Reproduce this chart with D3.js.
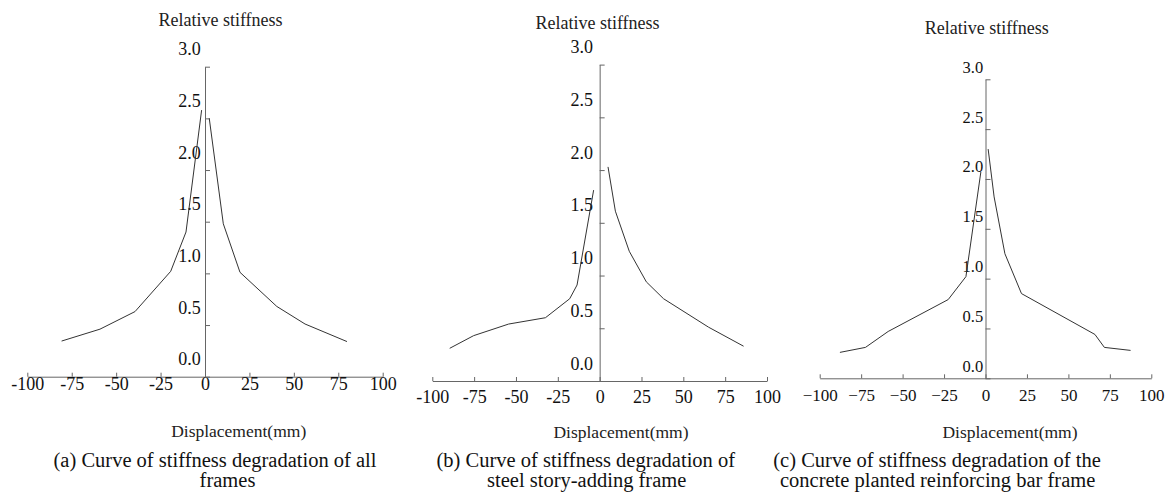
<!DOCTYPE html>
<meta charset="utf-8">
<body style="margin:0;background:#fff">
</body>
<script src="https://d3js.org/d3.v7.min.js"></script>
<script>

// [displacement (mm), relative stiffness]
var aNeg = [[-80.7,0.345],[-59.1,0.46],[-39.4,0.63],[-19.3,1.02],[-10.7,1.40],[-1.9,2.58]];
var aPos = [[2.4,2.50],[10.3,1.48],[19.7,1.01],[40.4,0.68],[56.3,0.51],[79.9,0.34]];
var bNeg = [[-89.6,0.31],[-75.3,0.43],[-54.4,0.54],[-32.4,0.60],[-17.9,0.78],[-13.5,0.91],[-3.6,1.81]];
var bPos = [[5.0,2.03],[9.4,1.61],[17.7,1.23],[27.9,0.94],[38.2,0.78],[65.1,0.51],[86.0,0.33]];
var cNeg = [[-87.8,0.26],[-72.4,0.31],[-58.7,0.47],[-22.5,0.79],[-11.8,1.02],[-2.8,2.07]];
var cPos = [[1.6,2.30],[5.2,1.82],[11.7,1.25],[21.7,0.85],[66.0,0.44],[71.7,0.31],[87.5,0.28]];

var xTicks = [-100, -75, -50, -25, 0, 25, 50, 75, 100];
var yTicks = [0, 0.5, 1.0, 1.5, 2.0, 2.5, 3.0];
var yTitle = "Relative stiffness";
var xTitle = "Displacement(mm)";
var captionA = ["(a) Curve of stiffness degradation of all", "frames"];
var captionB = ["(b) Curve of stiffness degradation of", "steel story-adding frame"];
var captionC = ["(c) Curve of stiffness degradation of the", "concrete planted reinforcing bar frame"];

var font = "'Liberation Serif', 'Times New Roman', serif";

// where each panel sits on the page
var panels = [
  {neg: aNeg, pos: aPos, cap: captionA, minus: "-",
   xl: 27.3, xr: 382.7, yb: 376.7, yt: 66.7,
   ySize: 18, xSize: 18, yDx: -4.3, yDy: -12, xDy: 12.8,
   yTitle: [220.5, 26], xTitle: [238.7, 437],
   capAnchor: "middle", cap1: [215, 467], cap2: [227.5, 487]},
  {neg: bNeg, pos: bPos, cap: captionB, minus: "-",
   xl: 432.3, xr: 767, yb: 381, yt: 64.6,
   ySize: 18, xSize: 18, yDx: -6.6, yDy: -12, xDy: 21.7,
   yTitle: [597.5, 29.3], xTitle: [621, 438.3],
   capAnchor: "middle", cap1: [585.8, 466.5], cap2: [586.7, 487]},
  {neg: cNeg, pos: cPos, cap: captionC, minus: "\u2212",
   xl: 819.7, xr: 1151.3, yb: 378.3, yt: 79.3,
   ySize: 16.5, xSize: 17, yDx: -2.3, yDy: -7, xDy: 22.4,
   yTitle: [986.8, 34.3], xTitle: [1010, 438.3],
   capAnchor: "start", cap1: [773.3, 466.5], cap2: [780, 487]}
];

var svg = d3.select("body").append("svg")
  .attr("width", 1169)
  .attr("height", 494)
  .style("display", "block");

svg.append("rect").attr("width", 1169).attr("height", 494).attr("fill", "#fff");

panels.forEach(function(p) {
  var x = d3.scaleLinear().domain([-100, 100]).range([p.xl, p.xr]);
  var y = d3.scaleLinear().domain([0, 3]).range([p.yb, p.yt]);

  // x axis, ticks pointing up
  var gx = svg.append("g")
    .attr("transform", "translate(0," + p.yb + ")")
    .call(d3.axisBottom(x).tickValues(xTicks).tickSizeInner(-4).tickSizeOuter(0)
      .tickFormat(function(d) { return d < 0 ? p.minus + Math.abs(d) : d; }));
  gx.selectAll("text")
    .attr("y", 0).attr("dy", p.xDy)
    .style("font-family", font).style("font-size", p.xSize + "px").attr("fill", "#111");

  // y axis, ticks pointing right, labels sit above their ticks
  var gy = svg.append("g")
    .attr("transform", "translate(" + x(0) + ",0)")
    .call(d3.axisLeft(y).tickValues(yTicks).tickSizeInner(-5).tickSizeOuter(0)
      .tickFormat(d3.format(".1f")));
  gy.selectAll("text")
    .attr("x", p.yDx).attr("dy", p.yDy)
    .style("font-family", font).style("font-size", p.ySize + "px").attr("fill", "#111");

  svg.selectAll(".domain, .tick line").attr("stroke", "#666");

  var line = d3.line()
    .x(function(d) { return x(d[0]); })
    .y(function(d) { return y(d[1]); });

  [p.neg, p.pos].forEach(function(branch) {
    svg.append("path")
      .datum(branch)
      .attr("d", line)
      .attr("fill", "none")
      .attr("stroke", "#333")
      .attr("stroke-width", 1);
  });

  svg.append("text")
    .attr("x", p.yTitle[0]).attr("y", p.yTitle[1])
    .attr("text-anchor", "middle")
    .style("font-family", font).style("font-size", "18px").attr("fill", "#222")
    .text(yTitle);

  svg.append("text")
    .attr("x", p.xTitle[0]).attr("y", p.xTitle[1])
    .attr("text-anchor", "middle")
    .style("font-family", font).style("font-size", "17.5px").attr("fill", "#222")
    .text(xTitle);

  svg.append("text")
    .attr("x", p.cap1[0]).attr("y", p.cap1[1])
    .attr("text-anchor", p.capAnchor)
    .style("font-family", font).style("font-size", "20.5px").attr("fill", "#111")
    .text(p.cap[0]);

  svg.append("text")
    .attr("x", p.cap2[0]).attr("y", p.cap2[1])
    .attr("text-anchor", p.capAnchor)
    .style("font-family", font).style("font-size", "20.5px").attr("fill", "#111")
    .text(p.cap[1]);
});

</script>
